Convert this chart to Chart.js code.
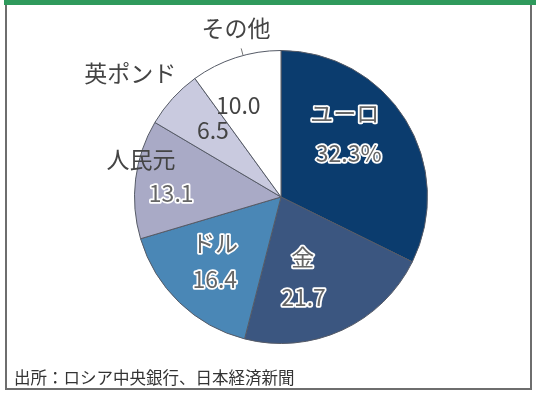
<!DOCTYPE html>
<html>
<head>
<meta charset="utf-8">
<script src="https://cdn.jsdelivr.net/npm/chart.js@4"></script>
<style>
  body { margin: 0; background: #fff; }
  #wrap { position: relative; width: 540px; height: 396px; overflow: hidden; }
  #bar { position: absolute; left: 4px; top: 0; width: 532px; height: 5px; background: #2f9a5c; }
  #frame { position: absolute; left: 5px; top: 5px; width: 527px; height: 385px; border: 2px solid #6e6e6e; border-top: none; box-sizing: border-box; }
  #src { position: absolute; left: 14px; top: 365px; font: 16.5px "Noto Sans CJK JP"; color: #333; }
  canvas { position: absolute; left: 0; top: 0; }
</style>
</head>
<body>
<div id="wrap">
  <div id="bar"></div>
  <div id="frame"></div>
  <canvas id="chart-area" width="540" height="396"></canvas>
  <div id="src">出所：ロシア中央銀行、日本経済新聞</div>
</div>
<script>
'use strict';

//Data
var labels = ['ユーロ', '金', 'ドル', '人民元', '英ポンド', 'その他'];
var shares = [32.3, 21.7, 16.4, 13.1, 6.5, 10.0];
var valueText = ['32.3%', '21.7', '16.4', '13.1', '6.5', '10.0'];
var colours = ['#0b3c6e', '#3b5680', '#4a87b6', '#a9aac6', '#c9cadf', '#ffffff'];

//where the texts go: angle offset from slice middle (deg), radius as fraction of pie
var valuePos = [[-1, 0.55], [12, 0.70], [-5, 0.72], [-5, 0.75], [2, 0.65], [-7, 0.69]];
var namePos = [[-21, 0.72], [5, 0.44], [11, 0.55], [8, 0.99], [-3, 1.33], [3, 1.19]];
var halo = [true, true, true, true, false, false];

function pointAt(arc, degOff, frac) {
	var a = (arc.startAngle + arc.endAngle) / 2 + degOff * Math.PI / 180;
	return { x: arc.x + Math.cos(a) * arc.outerRadius * frac, y: arc.y + Math.sin(a) * arc.outerRadius * frac };
}

function haloText(ctx, txt, x, y) {
	ctx.lineJoin = 'round';
	ctx.lineWidth = 3.5;
	ctx.strokeStyle = '#ffffff';
	ctx.strokeText(txt, x, y);
	ctx.fillStyle = '#666666';
	ctx.fillText(txt, x, y);
}

var labelPlugin = {
	id: 'sliceLabels',
	afterDatasetsDraw: function (chart) {
		var ctx = chart.ctx;
		var arcs = chart.getDatasetMeta(0).data;
		ctx.save();
		ctx.font = '23px "Noto Sans CJK JP"';
		ctx.textAlign = 'center';
		ctx.textBaseline = 'middle';
		arcs.forEach(function (arc, i) {
			var v = pointAt(arc, valuePos[i][0], valuePos[i][1]);
			var n = pointAt(arc, namePos[i][0], namePos[i][1]);
			if (halo[i]) {
				haloText(ctx, valueText[i], v.x, v.y);
				if (i === 3) {
					ctx.fillStyle = '#444444';
					ctx.fillText(labels[i], n.x, n.y);
				} else {
					haloText(ctx, labels[i], n.x, n.y);
				}
			} else {
				ctx.fillStyle = '#444444';
				ctx.fillText(labels[i], n.x, n.y);
				ctx.fillText(valueText[i], v.x, v.y);
			}
		});
		// leader tick for その他
		var o = arcs[5];
		var p1 = pointAt(o, 3, 1.0);
		var p2 = pointAt(o, 3, 1.05);
		ctx.strokeStyle = '#777';
		ctx.lineWidth = 1;
		ctx.beginPath();
		ctx.moveTo(p1.x, p1.y);
		ctx.lineTo(p2.x, p2.y);
		ctx.stroke();
		ctx.restore();
	}
};

var config = {
	type: 'pie',
	data: {
		labels: labels,
		datasets: [{
			data: shares,
			backgroundColor: colours,
			borderColor: '#555a66',
			borderWidth: 1
		}]
	},
	options: {
		responsive: false,
		animation: false,
		layout: { padding: { top: 50, bottom: 52, left: 134, right: 112 } },
		plugins: {
			legend: { display: false },
			tooltip: { enabled: false }
		}
	},
	plugins: [labelPlugin]
};

var ctx = document.getElementById('chart-area').getContext('2d');
window.myPie = new Chart(ctx, config);
</script>
</body>
</html>
